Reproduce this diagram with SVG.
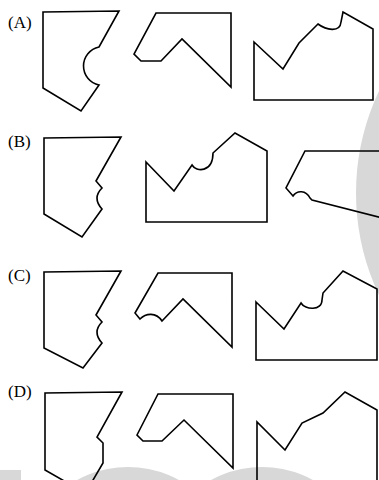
<svg xmlns="http://www.w3.org/2000/svg" width="379" height="480" viewBox="0 0 379 480">
<style>
.s{fill:none;stroke:#000;stroke-width:1.6;stroke-linejoin:miter}
.lbl{font-family:"Liberation Serif","Times New Roman",serif;font-size:17px;fill:#000}
.wm{fill:#d8d8d8}
</style>
<rect width="379" height="480" fill="#fff"/>
<g id="watermark">
<circle class="wm" cx="594" cy="193" r="238"/>
<rect class="wm" x="0" y="470" width="21" height="10"/>
<circle class="wm" cx="128" cy="573" r="106"/>
<circle class="wm" cx="262" cy="573" r="106"/>
</g>
<g id="rowA">
<text class="lbl" x="8" y="28">(A)</text>
<path id="A1" class="s" d="M43,12 L119,11 L99,47 A19.4,19.4 0 0 0 99,85 L81,111 L43,88 Z"/>
<path id="A2" class="s" d="M156,13 L231,13 L231,87 L182,39 L161,61 L141,61 L134,54 Z"/>
<path id="A3" class="s" d="M254,42 L283,69 L299,43 L318,24 C326,30 340,33 341,22 L343,12 L373,29 L373,100 L254,100 Z"/>
</g>
<g id="rowB">
<text class="lbl" x="8" y="147">(B)</text>
<path id="B1" class="s" d="M44,138 L121,137 L96,181 L102,188 Q92,198 102,209 L82,237 L44,214 Z"/>
<path id="B2" class="s" d="M146,162 L174,191 L192,165 C196,172 213,173 213,153 L235,133 L267,151 L267,222 L146,222 Z"/>
<path id="B3" class="s" d="M390,151 L305,151 L286,188 L293,196 C297,190 306,190 310,198 L312,200 L390,220"/>
</g>
<g id="rowC">
<text class="lbl" x="8" y="281">(C)</text>
<path id="C1" class="s" d="M44,272 L121,271 L96,315 L102,322 Q92,332 102,343 L83,368 L44,348 Z"/>
<path id="C2" class="s" d="M158,273 L232,273 L232,347 L183,299 L162,321 C156,312 146,313 140,319 L135,313 Z"/>
<path id="C3" class="s" d="M256,302 L284,329 L301,303 C305,310 322,311 322,300 L323,293 L343,271 L377,289 L377,360 L256,360 Z"/>
</g>
<g id="rowD">
<text class="lbl" x="8" y="397">(D)</text>
<path id="D1" class="s" d="M86,492 L103,463 L103,443 L97,437 L122,392 L45,393 L45,470 L66,482"/>
<path id="D2" class="s" d="M158,394 L233,394 L233,468 L184,420 L162,441 L143,441 L137,435 Z"/>
<path id="D3" class="s" d="M257,485 L257,422 L285,450 L302,423 L323,413 L345,392 L377,410 L377,485"/>
</g>
</svg>
